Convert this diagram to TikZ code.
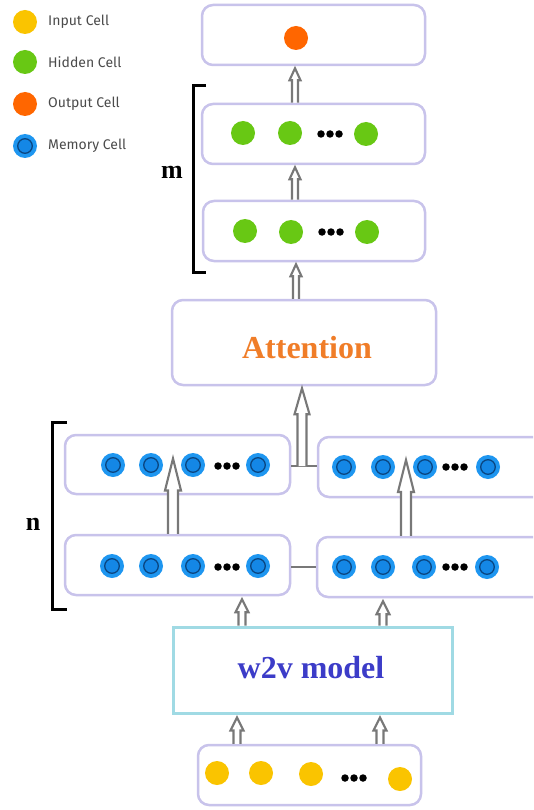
\documentclass[tikz,border=0pt]{standalone}
\usepackage{fontspec}
\setmainfont{Liberation Serif}
\newfontfamily\legfont{Fira Sans}
\usetikzlibrary{calc}
\definecolor{boxc}{RGB}{200,195,235}
\definecolor{w2vc}{RGB}{160,218,228}
\definecolor{arrc}{RGB}{120,120,120}
\definecolor{yelc}{RGB}{250,196,0}
\definecolor{grnc}{RGB}{104,200,20}
\definecolor{orac}{RGB}{255,102,0}
\definecolor{bluc}{RGB}{30,150,240}
\definecolor{blui}{RGB}{20,135,230}
\definecolor{blud}{RGB}{10,70,130}
\definecolor{attc}{RGB}{240,125,40}
\definecolor{w2vt}{RGB}{60,60,200}
\definecolor{legt}{RGB}{75,75,75}
\tikzset{
  box/.style={draw=boxc, line width=2.5pt, rounded corners=11pt, fill=white, inner sep=0pt, minimum width=#1, minimum height=60pt},
  cellbase/.style={circle, inner sep=0pt, minimum size=24pt, draw=none},
  yel/.style={cellbase, fill=yelc},
  grn/.style={cellbase, fill=grnc},
  ora/.style={cellbase, fill=orac},
  mem/.style={cellbase, fill=bluc, path picture={\draw[blud, line width=1.3pt, fill=blui] (path picture bounding box.center) circle (7.3pt);}},
  dotc/.style={circle, fill=black, inner sep=0pt, minimum size=7.5pt},
  harr/.style={draw=arrc, line width=2.1pt, fill=white, line join=miter},
  link/.style={draw=arrc, line width=2pt},
  brk/.style={draw=black, line width=3pt},
  leg/.style={anchor=west, text=legt, font=\legfont\fontsize{14}{14}\selectfont, inner sep=0pt},
  bigtext/.style={font=\bfseries\fontsize{32}{32}\selectfont},
}
% start, tip, shaft half width, head half width, head length
\newcommand\harrow[5]{%
  \draw[harr] ($(#1)+(-#3,0)$) -- ($(#2)+(-#3,#5)$) -- ($(#2)+(-#4,#5)$) -- (#2) -- ($(#2)+(#4,#5)$) -- ($(#2)+(#3,#5)$) -- ($(#1)+(#3,0)$);}
\newcommand\threedots[3]{%
  \node[dotc] (#1a) at (#2-9,#3) {};
  \node[dotc] (#1b) at (#2,#3) {};
  \node[dotc] (#1c) at (#2+9,#3) {};}
\begin{document}
\begin{tikzpicture}[x=1pt,y=-1pt]
\useasboundingbox (0,0) rectangle (533,810);
\clip (0,0) rectangle (533,810);
\fill[white] (0,0) rectangle (533,810);

% legend
\node[yel] (ly) at (25,22) {};
\node[grn] (lg) at (25,62) {};
\node[ora] (lo) at (25,104) {};
\node[mem] (lm) at (25,146) {};
\node[leg] (lyt) at (48,22) {Input Cell};
\node[leg] (lgt) at (48,62) {Hidden Cell};
\node[leg] (lot) at (48,104) {Output Cell};
\node[leg] (lmt) at (48,146) {Memory Cell};

% boxes
\node[box=223pt] (out) at (313.5,35) {};
\node[box=223pt] (hid1) at (313.5,134) {};
\node[box=222pt] (hid2) at (314,231) {};
\node[box=264pt, minimum height=85pt] (att) at (304,342.5) {};
\node[bigtext, text=attc] (attt) at (307,348) {Attention};
\node[box=225pt, minimum height=59pt] (mUL) at (177.5,464.5) {};
\node[box=227pt] (mUR) at (431.5,467) {};
\node[box=225pt] (mLL) at (177.5,565) {};
\node[box=228pt] (mLR) at (431,567) {};
\node[draw=w2vc, line width=3pt, fill=white, minimum width=279pt, minimum height=86pt, inner sep=0pt] (w2v) at (312.5,670) {};
\node[bigtext, text=w2vt] (w2vtx) at (311,668) {w2v model};
\node[box=223pt] (inp) at (309.5,775) {};

% brackets
\node[font=\bfseries\fontsize{26}{26}\selectfont] (mlab) at (172,172) {m};
\node[font=\bfseries\fontsize{26}{26}\selectfont] (nlab) at (33,524) {n};
\draw[brk] (206,86) -- (193,86) -- (193,272) -- (206,272);
\draw[brk] (67,422) -- (52,422) -- (52,609) -- (67,609);

% links between columns
\draw[link] (mUL.east |- 0,466) -- (mUR.west |- 0,466);
\draw[link] (mLL.east |- 0,567) -- (mLR.west |- 0,567);

% arrow end points
\coordinate (a1s) at (237,0 |- inp.north);
\coordinate (a1t) at ($(237,0 |- w2v.south)+(0,3)$);
\coordinate (a2s) at (380,0 |- inp.north);
\coordinate (a2t) at ($(380,0 |- w2v.south)+(0,3)$);
\coordinate (a3s) at (242,0 |- w2v.north);
\coordinate (a3t) at ($(242,0 |- mLL.south)+(0,3)$);
\coordinate (a4s) at (383,0 |- w2v.north);
\coordinate (a4t) at ($(383,0 |- mLR.south)+(0,3)$);
\coordinate (a5s) at (173,0 |- mLL.north);
\coordinate (a5t) at ($(173,0 |- mUL.center)+(0,-6)$);
\coordinate (a6s) at (406,0 |- mLR.north);
\coordinate (a6t) at ($(406,0 |- mUR.center)+(0,-7)$);
\coordinate (a7s) at (302,466);
\coordinate (a7t) at ($(302,0 |- att.south)+(0,2)$);
\coordinate (a8s) at (296,0 |- att.north);
\coordinate (a8t) at ($(296,0 |- hid2.south)+(0,2)$);
\coordinate (a9s) at (295,0 |- hid2.north);
\coordinate (a9t) at ($(295,0 |- hid1.south)+(0,2)$);
\coordinate (a10s) at (295,0 |- hid1.north);
\coordinate (a10t) at ($(295,0 |- out.south)+(0,2)$);

\harrow{a1s}{a1t}{3.5}{6.5}{13}
\harrow{a2s}{a2t}{3.5}{6.5}{13}
\harrow{a3s}{a3t}{3.5}{6.5}{13}
\harrow{a4s}{a4t}{3.5}{6.5}{13}
\harrow{a5s}{a5t}{5}{8}{32}
\harrow{a6s}{a6t}{5}{8}{32}
\harrow{a7s}{a7t}{4.5}{7.5}{26}
\harrow{a8s}{a8t}{3}{5.5}{12}
\harrow{a9s}{a9t}{3}{5.5}{12}
\harrow{a10s}{a10t}{3}{5.5}{12}

% cells
\node[ora] (o1) at (296,38) {};

\node[grn] (h11) at (243,133) {};
\node[grn] (h12) at (290,133) {};
\threedots{d1}{330}{134}
\node[grn] (h13) at (366,134) {};

\node[grn] (h21) at (245,231) {};
\node[grn] (h22) at (291,232) {};
\threedots{d2}{331}{232}
\node[grn] (h23) at (367,232) {};

\node[mem] (u1) at (113,465) {};
\node[mem] (u2) at (151,465) {};
\node[mem] (u3) at (193,465) {};
\threedots{d3}{227}{466}
\node[mem] (u4) at (258,465) {};

\node[mem] (l1) at (112,566) {};
\node[mem] (l2) at (151,566) {};
\node[mem] (l3) at (193,566) {};
\threedots{d4}{227}{567}
\node[mem] (l4) at (258,566) {};

\node[mem] (r1) at (344,467) {};
\node[mem] (r2) at (383,467) {};
\node[mem] (r3) at (425,467) {};
\threedots{d5}{455}{467}
\node[mem] (r4) at (488,467) {};

\node[mem] (s1) at (344,567) {};
\node[mem] (s2) at (383,567) {};
\node[mem] (s3) at (424,567) {};
\threedots{d6}{455}{567}
\node[mem] (s4) at (487,567) {};

\node[yel] (i1) at (217,773) {};
\node[yel] (i2) at (261,773) {};
\node[yel] (i3) at (311,774) {};
\threedots{d7}{354}{778}
\node[yel] (i4) at (400,779) {};
\end{tikzpicture}
\end{document}
